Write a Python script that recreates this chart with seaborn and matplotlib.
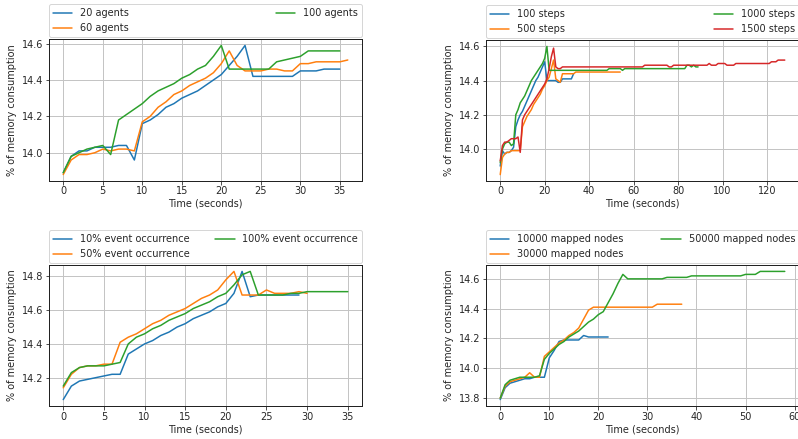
import numpy as np
import pandas as pd
import matplotlib
matplotlib.use("Agg")
import matplotlib.pyplot as plt
import seaborn as sns

# ---------------- data ----------------
# Panel 1: number of agents
t_a20 = list(range(0, 36))
v_a20 = [13.89, 13.98, 14.01, 14.01, 14.03, 14.03, 14.03, 14.04, 14.04, 13.96,
         14.16, 14.18, 14.21, 14.25, 14.27, 14.30, 14.32, 14.34, 14.37, 14.40,
         14.43, 14.48, 14.53, 14.59, 14.42, 14.42, 14.42, 14.42, 14.42, 14.42,
         14.45, 14.45, 14.45, 14.46, 14.46, 14.46]
t_a60 = list(range(0, 37))
v_a60 = [13.88, 13.96, 13.99, 13.99, 14.00, 14.02, 14.01, 14.02, 14.02, 14.01,
         14.17, 14.20, 14.25, 14.28, 14.32, 14.34, 14.37, 14.39, 14.41, 14.44,
         14.49, 14.56, 14.48, 14.45, 14.45, 14.45, 14.46, 14.46, 14.45, 14.45,
         14.49, 14.49, 14.50, 14.50, 14.50, 14.50, 14.51]
t_a100 = list(range(0, 36))
v_a100 = [13.89, 13.98, 14.00, 14.02, 14.03, 14.04, 13.99, 14.18, 14.21, 14.24,
          14.27, 14.31, 14.34, 14.36, 14.38, 14.41, 14.43, 14.46, 14.48, 14.53,
          14.59, 14.46, 14.46, 14.46, 14.46, 14.46, 14.46, 14.50, 14.51, 14.52,
          14.53, 14.56, 14.56, 14.56, 14.56, 14.56]

# Panel 2: number of steps
t_s100 = list(range(0, 22)) + [25, 26, 27, 28, 32, 33]
v_s100 = [13.90, 13.99, 13.97, 13.98, 13.98, 13.99, 14.01, 14.13, 14.17, 14.20,
          14.22, 14.25, 14.28, 14.31, 14.34, 14.37, 14.40, 14.42, 14.45, 14.48,
          14.51, 14.40, 14.40, 14.39, 14.39, 14.41, 14.41, 14.44]
t_s500 = list(range(0, 29)) + [33, 34, 54]
v_s500 = [13.85, 13.95, 13.97, 13.98, 13.98, 13.99, 13.99, 13.99, 13.99, 13.99,
          14.13, 14.16, 14.19, 14.21, 14.23, 14.26, 14.28, 14.30, 14.32, 14.35,
          14.37, 14.40, 14.42, 14.47, 14.52, 14.41, 14.40, 14.39, 14.44,
          14.44, 14.45, 14.45]
t_s1000 = list(range(0, 23)) + [48, 49, 54, 55, 56, 83, 84, 85, 86, 87, 88, 89]
v_s1000 = [13.92, 14.00, 14.03, 14.04, 14.04, 14.02, 14.03, 14.20, 14.23, 14.27,
           14.29, 14.31, 14.34, 14.37, 14.40, 14.42, 14.44, 14.46, 14.48, 14.50,
           14.53, 14.60, 14.46, 14.46, 14.47, 14.47, 14.46, 14.47, 14.47, 14.49,
           14.49, 14.48, 14.49, 14.48, 14.48]
t_s1500 = list(range(0, 29)) + [64, 65, 75, 76, 77, 78, 93, 94, 95, 97, 98, 101,
                                102, 105, 106, 121, 122, 124, 125, 128]
v_s1500 = [13.93, 14.02, 14.04, 14.04, 14.05, 14.06, 14.06, 14.06, 14.07, 13.98,
           14.17, 14.20, 14.22, 14.24, 14.26, 14.28, 14.30, 14.32, 14.34, 14.36,
           14.38, 14.41, 14.47, 14.54, 14.59, 14.48, 14.47, 14.47, 14.48,
           14.48, 14.49, 14.49, 14.48, 14.48, 14.49, 14.49, 14.50, 14.49, 14.49,
           14.50, 14.50, 14.49, 14.49, 14.50, 14.50, 14.51, 14.51, 14.52, 14.52]

# Panel 3: event occurrence
t_e10 = list(range(0, 30))
v_e10 = [14.07, 14.15, 14.18, 14.19, 14.20, 14.21, 14.22, 14.22, 14.34, 14.37,
         14.40, 14.42, 14.45, 14.47, 14.50, 14.52, 14.55, 14.57, 14.59, 14.62,
         14.64, 14.70, 14.83, 14.68, 14.69, 14.69, 14.69, 14.69, 14.69, 14.69]
t_e50 = list(range(0, 31))
v_e50 = [14.14, 14.22, 14.26, 14.27, 14.27, 14.28, 14.28, 14.41, 14.44, 14.46,
         14.49, 14.52, 14.54, 14.57, 14.59, 14.61, 14.64, 14.67, 14.69, 14.72,
         14.78, 14.83, 14.69, 14.69, 14.69, 14.72, 14.70, 14.70, 14.70, 14.71,
         14.70]
t_e100 = list(range(0, 36))
v_e100 = [14.15, 14.23, 14.26, 14.27, 14.27, 14.27, 14.28, 14.29, 14.40, 14.44,
          14.46, 14.49, 14.51, 14.54, 14.56, 14.58, 14.61, 14.63, 14.65, 14.68,
          14.70, 14.75, 14.81, 14.83, 14.69, 14.69, 14.69, 14.69, 14.70, 14.70,
          14.71, 14.71, 14.71, 14.71, 14.71, 14.71]

# Panel 4: mapped nodes
t_m10k = list(range(0, 23))
v_m10k = [13.79, 13.87, 13.90, 13.91, 13.92, 13.93, 13.93, 13.94, 13.94, 13.94,
          14.07, 14.12, 14.18, 14.19, 14.19, 14.19, 14.19, 14.22, 14.21, 14.21,
          14.21, 14.21, 14.21]
t_m30k = list(range(0, 21)) + [31, 32, 37]
v_m30k = [13.80, 13.88, 13.91, 13.92, 13.93, 13.94, 13.97, 13.94, 13.94, 14.08,
          14.11, 14.14, 14.17, 14.19, 14.22, 14.24, 14.27, 14.33, 14.39, 14.41,
          14.41, 14.41, 14.43, 14.43]
t_m50k = list(range(0, 27)) + [33, 34, 38, 39, 49, 50, 52, 53, 58]
v_m50k = [13.80, 13.89, 13.92, 13.93, 13.94, 13.94, 13.94, 13.94, 13.95, 14.06,
          14.10, 14.13, 14.16, 14.18, 14.21, 14.23, 14.25, 14.28, 14.31, 14.33,
          14.36, 14.38, 14.44, 14.50, 14.57, 14.63, 14.60, 14.60, 14.61, 14.61,
          14.62, 14.62, 14.63, 14.63, 14.65, 14.65]

panels = [
    [("20 agents", t_a20, v_a20), ("60 agents", t_a60, v_a60), ("100 agents", t_a100, v_a100)],
    [("100 steps", t_s100, v_s100), ("500 steps", t_s500, v_s500),
     ("1000 steps", t_s1000, v_s1000), ("1500 steps", t_s1500, v_s1500)],
    [("10% event occurrence", t_e10, v_e10), ("50% event occurrence", t_e50, v_e50),
     ("100% event occurrence", t_e100, v_e100)],
    [("10000 mapped nodes", t_m10k, v_m10k), ("30000 mapped nodes", t_m30k, v_m30k),
     ("50000 mapped nodes", t_m50k, v_m50k)],
]

xlabel = "Time (seconds)"
ylabel = "% of memory consumption"

# ---------------- style ----------------
sns.set_style("ticks", {"axes.grid": True, "grid.color": "#c4c4c4",
                        "axes.edgecolor": "#222222", "grid.linestyle": "-"})
plt.rcParams["font.family"] = ["DejaVu Sans"]
FS = 9.7
plt.rcParams["font.size"] = FS
plt.rcParams["axes.labelsize"] = FS
plt.rcParams["xtick.labelsize"] = FS
plt.rcParams["ytick.labelsize"] = FS
plt.rcParams["legend.fontsize"] = FS
plt.rcParams["grid.linewidth"] = 1.0
plt.rcParams["axes.linewidth"] = 1.0
plt.rcParams["text.color"] = "#262626"
plt.rcParams["axes.labelcolor"] = "#262626"
plt.rcParams["xtick.color"] = "#262626"
plt.rcParams["ytick.color"] = "#262626"

DPI = 72
W, H = 798, 439
fig = plt.figure(figsize=(W / DPI, H / DPI), dpi=DPI)

boxes = [(49, 39, 313, 142), (486, 40, 313, 141), (49, 265, 313, 141), (486, 265, 313, 141)]
palette = sns.color_palette("tab10")

for (l, t, w, h), series in zip(boxes, panels):
    ax = fig.add_axes([l / W, 1 - (t + h) / H, w / W, h / H])
    for i, (lab, tx, vy) in enumerate(series):
        df = pd.DataFrame({"t": tx, "v": vy})
        sns.lineplot(data=df, x="t", y="v", ax=ax, color=palette[i], label=lab,
                     estimator=None, sort=False, linewidth=1.5)
    ax.set_xlabel(xlabel, labelpad=2.5)
    ax.set_ylabel(ylabel, labelpad=4)
    ax.tick_params(axis="x", length=3.5, width=0.8, pad=2)
    ax.tick_params(axis="y", length=3.5, width=0.8, pad=2.5)
    for s in ax.spines.values():
        s.set_visible(True)
    ax.legend(loc="lower left", bbox_to_anchor=(0, 1.015, 1, 0.2), mode="expand",
              ncol=2, borderaxespad=0, frameon=True)

fig.savefig("out.png", dpi=DPI)
